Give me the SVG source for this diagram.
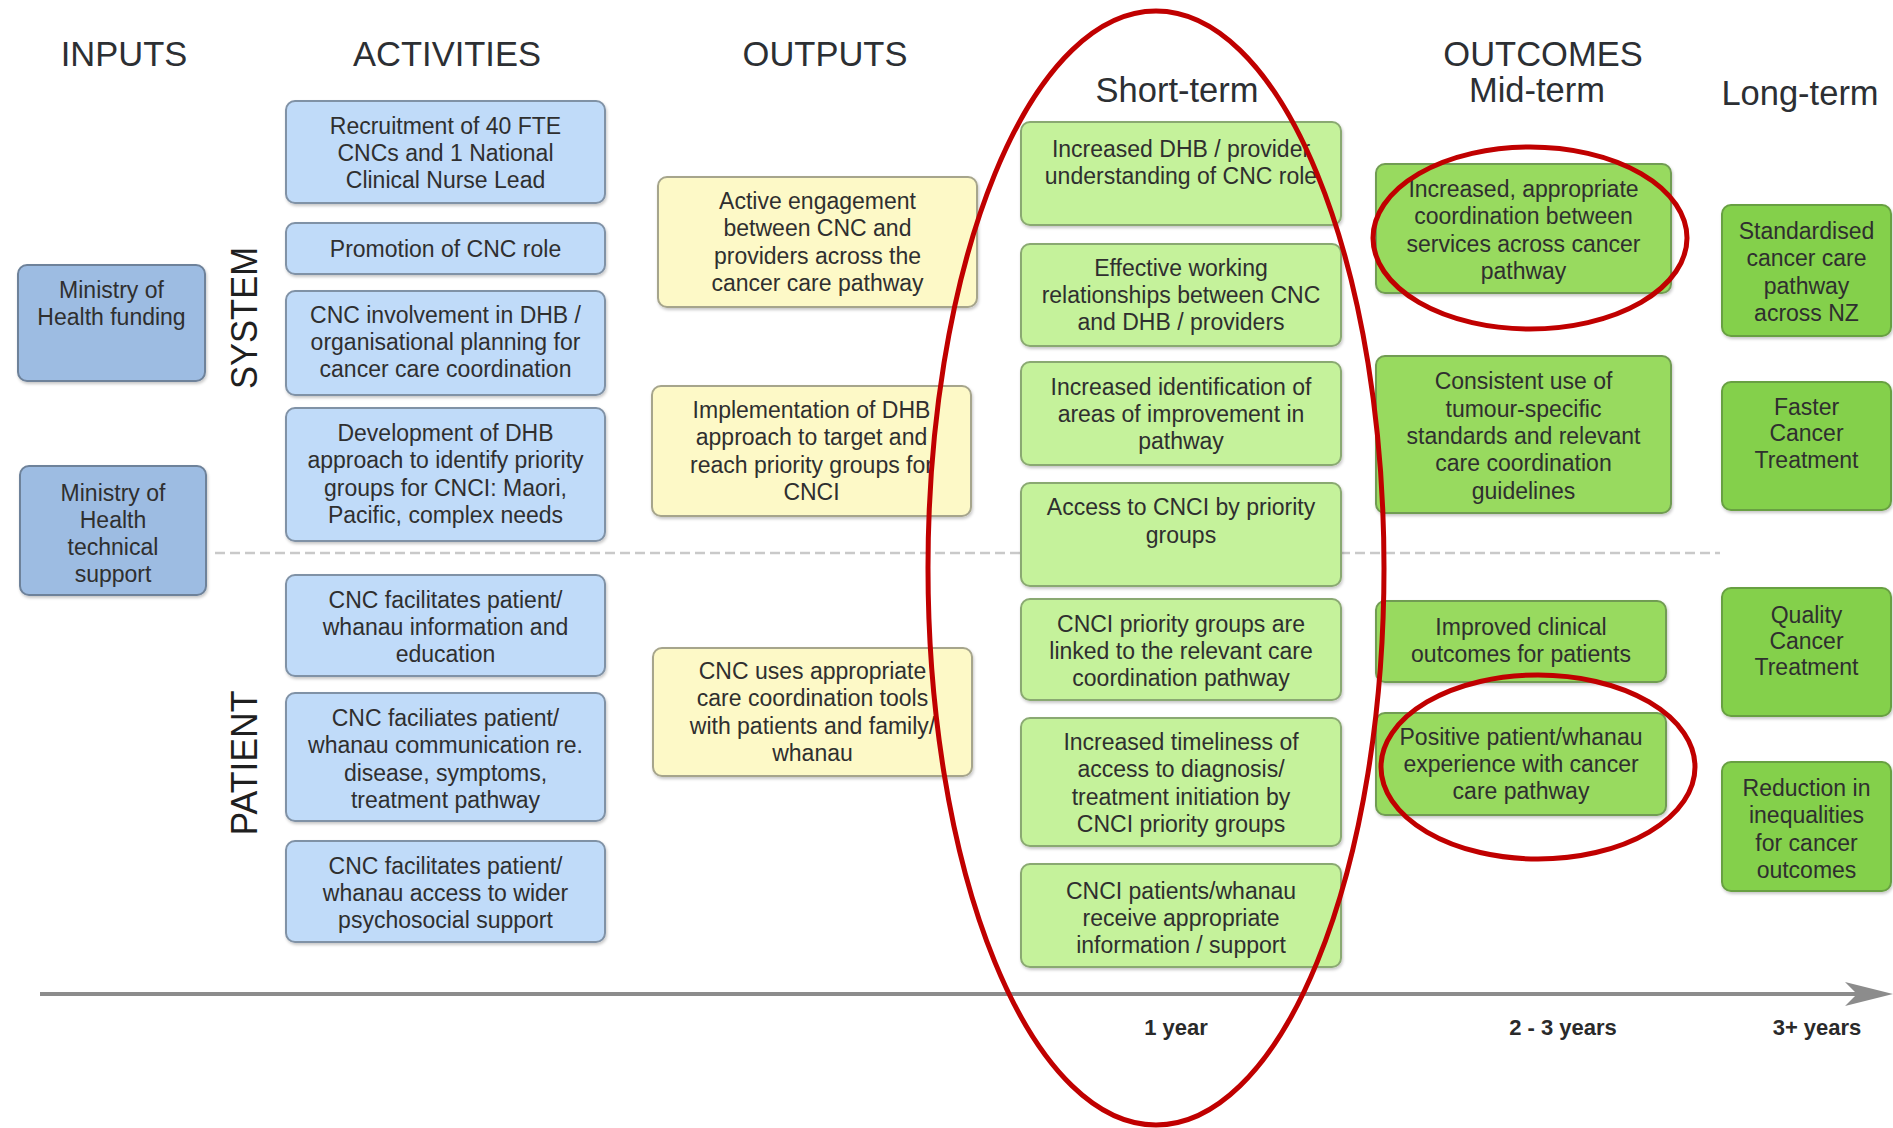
<svg xmlns="http://www.w3.org/2000/svg" width="1893" height="1128" viewBox="0 0 1893 1128">
  <defs>
    <filter id="shadow" x="-5%" y="-5%" width="110%" height="115%">
      <feDropShadow dx="1" dy="2" stdDeviation="1.5" flood-color="#000" flood-opacity="0.22"/>
    </filter>
  </defs>
  <style>
    text { font-family: "Liberation Sans", Arial, sans-serif; fill: #2f2f2f; }
    .hdr { font-size: 34.5px; text-anchor: middle; fill: #2c2f33; }
    .side { font-size: 37px; text-anchor: middle; fill: #1f1f1f; }
    .t { font-size: 23px; text-anchor: middle; }
    .yr { font-size: 22px; font-weight: bold; text-anchor: middle; fill: #2a2a2a; }
    rect { stroke-width: 2; filter: url(#shadow); }
    .input { fill: #9dbce2; stroke: #6e829a; }
    .act { fill: #c0dbf9; stroke: #8092a6; }
    .out { fill: #fdf9c7; stroke: #a6a58c; }
    .short { fill: #c5f29b; stroke: #8aa972; }
    .mid { fill: #98da5f; stroke: #719c52; }
    .long { fill: #84d04b; stroke: #68a042; }
    .ring { fill: none; stroke: #c00000; stroke-width: 5; }
  </style>

  <rect width="1893" height="1128" fill="#ffffff" style="filter:none;stroke:none"/>

  <!-- column headings -->
  <g id="headings">
    <text class="hdr" x="124" y="66">INPUTS</text>
    <text class="hdr" x="447" y="66">ACTIVITIES</text>
    <text class="hdr" x="825" y="66">OUTPUTS</text>
    <text class="hdr" x="1543" y="66">OUTCOMES</text>
    <text class="hdr" x="1177" y="102">Short-term</text>
    <text class="hdr" x="1537" y="102">Mid-term</text>
    <text class="hdr" x="1800" y="105">Long-term</text>
  </g>

  <!-- row labels -->
  <g id="row-labels">
    <text class="side" x="257" y="318" textLength="142" lengthAdjust="spacingAndGlyphs" transform="rotate(-90 257 318)">SYSTEM</text>
    <text class="side" x="257" y="763" textLength="145" lengthAdjust="spacingAndGlyphs" transform="rotate(-90 257 763)">PATIENT</text>
  </g>

  <!-- divider between system and patient rows -->
  <g id="divider">
    <line x1="215" y1="553" x2="1720" y2="553" stroke="#c9c9c9" stroke-width="2.5" stroke-dasharray="10 5"/>
  </g>

  <!-- inputs -->
  <g id="input-funding">
    <rect class="input" x="18" y="265" width="187" height="116" rx="9"/>
    <text class="t"><tspan x="111.5" y="298">Ministry of</tspan><tspan x="111.5" y="325">Health funding</tspan></text>
  </g>
  <g id="input-technical">
    <rect class="input" x="20" y="466" width="186" height="129" rx="9"/>
    <text class="t"><tspan x="113" y="501">Ministry of</tspan><tspan x="113" y="528">Health</tspan><tspan x="113" y="555">technical</tspan><tspan x="113" y="582">support</tspan></text>
  </g>

  <!-- activities -->
  <g id="act-recruitment">
    <rect class="act" x="286" y="101" width="319" height="102" rx="9"/>
    <text class="t"><tspan x="445.5" y="134">Recruitment of 40 FTE</tspan><tspan x="445.5" y="161">CNCs and 1 National</tspan><tspan x="445.5" y="188">Clinical Nurse Lead</tspan></text>
  </g>
  <g id="act-promotion">
    <rect class="act" x="286" y="223" width="319" height="51" rx="9"/>
    <text class="t" x="445.5" y="257">Promotion of CNC role</text>
  </g>
  <g id="act-planning">
    <rect class="act" x="286" y="291" width="319" height="104" rx="9"/>
    <text class="t"><tspan x="445.5" y="323">CNC involvement in DHB /</tspan><tspan x="445.5" y="350">organisational planning for</tspan><tspan x="445.5" y="377">cancer care coordination</tspan></text>
  </g>
  <g id="act-priority">
    <rect class="act" x="286" y="408" width="319" height="133" rx="9"/>
    <text class="t"><tspan x="445.5" y="441">Development of DHB</tspan><tspan x="445.5" y="468">approach to identify priority</tspan><tspan x="445.5" y="496">groups for CNCI: Maori,</tspan><tspan x="445.5" y="523">Pacific, complex needs</tspan></text>
  </g>
  <g id="act-information">
    <rect class="act" x="286" y="575" width="319" height="101" rx="9"/>
    <text class="t"><tspan x="445.5" y="608">CNC facilitates patient/</tspan><tspan x="445.5" y="635">whanau information and</tspan><tspan x="445.5" y="662">education</tspan></text>
  </g>
  <g id="act-communication">
    <rect class="act" x="286" y="693" width="319" height="128" rx="9"/>
    <text class="t"><tspan x="445.5" y="726">CNC faciliates patient/</tspan><tspan x="445.5" y="753">whanau communication re.</tspan><tspan x="445.5" y="781">disease, symptoms,</tspan><tspan x="445.5" y="808">treatment pathway</tspan></text>
  </g>
  <g id="act-psychosocial">
    <rect class="act" x="286" y="841" width="319" height="101" rx="9"/>
    <text class="t"><tspan x="445.5" y="874">CNC facilitates patient/</tspan><tspan x="445.5" y="901">whanau access to wider</tspan><tspan x="445.5" y="928">psychosocial support</tspan></text>
  </g>

  <!-- outputs -->
  <g id="out-engagement">
    <rect class="out" x="658" y="177" width="319" height="130" rx="9"/>
    <text class="t"><tspan x="817.5" y="209">Active engagement</tspan><tspan x="817.5" y="236">between CNC and</tspan><tspan x="817.5" y="264">providers across the</tspan><tspan x="817.5" y="291">cancer care pathway</tspan></text>
  </g>
  <g id="out-implementation">
    <rect class="out" x="652" y="386" width="319" height="130" rx="9"/>
    <text class="t"><tspan x="811.5" y="418">Implementation of DHB</tspan><tspan x="811.5" y="445">approach to target and</tspan><tspan x="811.5" y="473">reach priority groups for</tspan><tspan x="811.5" y="500">CNCI</tspan></text>
  </g>
  <g id="out-tools">
    <rect class="out" x="653" y="648" width="319" height="128" rx="9"/>
    <text class="t"><tspan x="812.5" y="679">CNC uses appropriate</tspan><tspan x="812.5" y="706">care coordination tools</tspan><tspan x="812.5" y="734">with patients and family/</tspan><tspan x="812.5" y="761">whanau</tspan></text>
  </g>

  <!-- short-term outcomes -->
  <g id="st-understanding">
    <rect class="short" x="1021" y="122" width="320" height="103" rx="9"/>
    <text class="t"><tspan x="1181" y="157">Increased DHB / provider</tspan><tspan x="1181" y="184">understanding of CNC role</tspan></text>
  </g>
  <g id="st-relationships">
    <rect class="short" x="1021" y="244" width="320" height="102" rx="9"/>
    <text class="t"><tspan x="1181" y="276">Effective working</tspan><tspan x="1181" y="303">relationships between CNC</tspan><tspan x="1181" y="330">and DHB / providers</tspan></text>
  </g>
  <g id="st-improvement">
    <rect class="short" x="1021" y="362" width="320" height="103" rx="9"/>
    <text class="t"><tspan x="1181" y="395">Increased identification of</tspan><tspan x="1181" y="422">areas of improvement in</tspan><tspan x="1181" y="449">pathway</tspan></text>
  </g>
  <g id="st-access">
    <rect class="short" x="1021" y="483" width="320" height="103" rx="9"/>
    <text class="t"><tspan x="1181" y="515">Access to CNCI by priority</tspan><tspan x="1181" y="543">groups</tspan></text>
  </g>
  <g id="st-linked">
    <rect class="short" x="1021" y="599" width="320" height="101" rx="9"/>
    <text class="t"><tspan x="1181" y="632">CNCI priority groups are</tspan><tspan x="1181" y="659">linked to the relevant care</tspan><tspan x="1181" y="686">coordination pathway</tspan></text>
  </g>
  <g id="st-timeliness">
    <rect class="short" x="1021" y="718" width="320" height="128" rx="9"/>
    <text class="t"><tspan x="1181" y="750">Increased timeliness of</tspan><tspan x="1181" y="777">access to diagnosis/</tspan><tspan x="1181" y="805">treatment initiation by</tspan><tspan x="1181" y="832">CNCI priority groups</tspan></text>
  </g>
  <g id="st-support">
    <rect class="short" x="1021" y="864" width="320" height="103" rx="9"/>
    <text class="t"><tspan x="1181" y="899">CNCI patients/whanau</tspan><tspan x="1181" y="926">receive appropriate</tspan><tspan x="1181" y="953">information / support</tspan></text>
  </g>

  <!-- mid-term outcomes -->
  <g id="mt-coordination">
    <rect class="mid" x="1376" y="164" width="295" height="129" rx="9"/>
    <text class="t"><tspan x="1523.5" y="197">Increased, appropriate</tspan><tspan x="1523.5" y="224">coordination between</tspan><tspan x="1523.5" y="252">services across cancer</tspan><tspan x="1523.5" y="279">pathway</tspan></text>
  </g>
  <g id="mt-standards">
    <rect class="mid" x="1376" y="356" width="295" height="157" rx="9"/>
    <text class="t"><tspan x="1523.5" y="389">Consistent use of</tspan><tspan x="1523.5" y="417">tumour-specific</tspan><tspan x="1523.5" y="444">standards and relevant</tspan><tspan x="1523.5" y="471">care coordination</tspan><tspan x="1523.5" y="499">guidelines</tspan></text>
  </g>
  <g id="mt-clinical">
    <rect class="mid" x="1376" y="601" width="290" height="81" rx="9"/>
    <text class="t"><tspan x="1521" y="635">Improved clinical</tspan><tspan x="1521" y="662">outcomes for patients</tspan></text>
  </g>
  <g id="mt-experience">
    <rect class="mid" x="1376" y="713" width="290" height="102" rx="9"/>
    <text class="t"><tspan x="1521" y="745">Positive patient/whanau</tspan><tspan x="1521" y="772">experience with cancer</tspan><tspan x="1521" y="799">care pathway</tspan></text>
  </g>

  <!-- long-term outcomes -->
  <g id="lt-standardised">
    <rect class="long" x="1722" y="205" width="169" height="131" rx="9"/>
    <text class="t"><tspan x="1806.5" y="239">Standardised</tspan><tspan x="1806.5" y="266">cancer care</tspan><tspan x="1806.5" y="294">pathway</tspan><tspan x="1806.5" y="321">across NZ</tspan></text>
  </g>
  <g id="lt-faster">
    <rect class="long" x="1722" y="382" width="169" height="128" rx="9"/>
    <text class="t"><tspan x="1806.5" y="415">Faster</tspan><tspan x="1806.5" y="441">Cancer</tspan><tspan x="1806.5" y="468">Treatment</tspan></text>
  </g>
  <g id="lt-quality">
    <rect class="long" x="1722" y="588" width="169" height="128" rx="9"/>
    <text class="t"><tspan x="1806.5" y="623">Quality</tspan><tspan x="1806.5" y="649">Cancer</tspan><tspan x="1806.5" y="675">Treatment</tspan></text>
  </g>
  <g id="lt-inequalities">
    <rect class="long" x="1722" y="762" width="169" height="129" rx="9"/>
    <text class="t"><tspan x="1806.5" y="796">Reduction in</tspan><tspan x="1806.5" y="823">inequalities</tspan><tspan x="1806.5" y="851">for cancer</tspan><tspan x="1806.5" y="878">outcomes</tspan></text>
  </g>

  <!-- time axis -->
  <g id="timeline">
    <line x1="40" y1="994" x2="1858" y2="994" stroke="#8c8c8c" stroke-width="4"/>
    <polygon points="1893,994 1845,982 1857,994 1845,1006" fill="#8c8c8c"/>
    <text class="yr" x="1176" y="1035">1 year</text>
    <text class="yr" x="1563" y="1035">2 - 3 years</text>
    <text class="yr" x="1817" y="1035">3+ years</text>
  </g>

  <!-- red highlight rings -->
  <g id="highlights">
    <ellipse class="ring" cx="1156" cy="568" rx="228" ry="557"/>
    <ellipse class="ring" cx="1530" cy="238" rx="157" ry="91"/>
    <ellipse class="ring" cx="1538" cy="767" rx="157" ry="92"/>
  </g>
</svg>
